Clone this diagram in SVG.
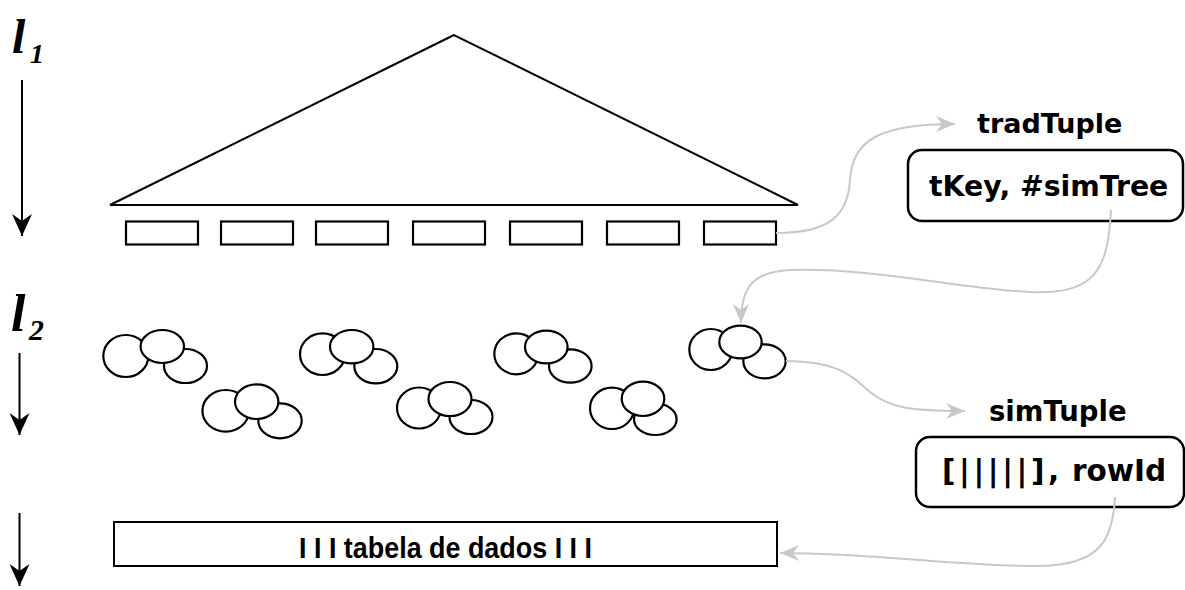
<svg xmlns="http://www.w3.org/2000/svg" xmlns:xlink="http://www.w3.org/1999/xlink" width="1185" height="590" viewBox="0 0 1185 590">
  <style>
    .shape { fill: #fff; stroke: #000; stroke-width: 2; }
    .leaf { fill: #fff; stroke: #000; stroke-width: 2.2; }
    .bubble { fill: #fff; stroke: #000; stroke-width: 2.2; }
    .box { fill: #fff; stroke: #000; stroke-width: 2.5; }
    .level { fill: none; stroke: #000; stroke-width: 2; }
    .link { fill: none; stroke: #c8c8c8; stroke-width: 2; }
    .lvl { font-family: "Liberation Serif", "Times New Roman", serif; font-weight: bold; font-style: italic; fill: #000; }
    .tag { font-family: "DejaVu Sans", Verdana, sans-serif; font-weight: bold; fill: #000; }
    .tbl { font-family: "Liberation Sans", Arial, sans-serif; font-weight: bold; font-size: 30px; fill: #000; }
  </style>
  <defs>
    <marker id="headBlack" viewBox="-23 -11 24 22" markerWidth="24" markerHeight="22" refX="0" refY="0" orient="auto" markerUnits="userSpaceOnUse">
      <path d="M0,0 L-22,-10 L-15,0 L-22,10 Z" fill="#000"/>
    </marker>
    <marker id="headGray" viewBox="-20 -9 21 18" markerWidth="21" markerHeight="18" refX="0" refY="0" orient="auto" markerUnits="userSpaceOnUse">
      <path d="M0,0 L-19,-8 L-13,0 L-19,8 Z" fill="#c8c8c8"/>
    </marker>
  </defs>

  <rect width="1185" height="590" fill="#fff"/>

  <!-- level markers on the left -->
  <g id="levels">
    <text class="lvl" x="12" y="53" font-size="48">l<tspan x="30" y="63" font-size="28">1</tspan></text>
    <text class="lvl" x="11" y="331" font-size="52">l<tspan x="29" y="340" font-size="30">2</tspan></text>
    <path class="level" d="M22,80 L22,236" marker-end="url(#headBlack)"/>
    <path class="level" d="M19.5,353 L19.5,435" marker-end="url(#headBlack)"/>
    <path class="level" d="M19.5,513 L19.5,586" marker-end="url(#headBlack)"/>
  </g>

  <!-- traditional index: tree outline and its leaf entries -->
  <g id="tradTree">
    <polygon class="shape" points="454,35 110,205 798,205"/>
  </g>
  <g id="leaves">
    <rect class="leaf" x="126" y="221.5" width="72" height="23"/>
    <rect class="leaf" x="221" y="221.5" width="72" height="23"/>
    <rect class="leaf" x="316" y="221.5" width="72" height="23"/>
    <rect class="leaf" x="413" y="221.5" width="72" height="23"/>
    <rect class="leaf" x="510" y="221.5" width="72" height="23"/>
    <rect class="leaf" x="607" y="221.5" width="72" height="23"/>
    <rect class="leaf" x="704" y="221.5" width="72" height="23"/>
  </g>

  <!-- similarity trees (three overlapping regions each) -->
  <g id="simTree1">
    <ellipse class="bubble" cx="125.8" cy="356" rx="22.5" ry="21"/>
    <ellipse class="bubble" cx="185.5" cy="366" rx="21.5" ry="17"/>
    <ellipse class="bubble" cx="162.3" cy="346.5" rx="21.7" ry="16.5"/>
  </g>
  <g id="simTree2">
    <ellipse class="bubble" cx="225.7" cy="410.8" rx="23.3" ry="20.8"/>
    <ellipse class="bubble" cx="280" cy="420.8" rx="21.7" ry="17.5"/>
    <ellipse class="bubble" cx="256.7" cy="401.7" rx="21.7" ry="17.3"/>
  </g>
  <g id="simTree3">
    <ellipse class="bubble" cx="322.5" cy="354.2" rx="22.5" ry="20.8"/>
    <ellipse class="bubble" cx="375.8" cy="366.2" rx="21.5" ry="17.2"/>
    <ellipse class="bubble" cx="351.7" cy="346.7" rx="21.7" ry="16.7"/>
  </g>
  <g id="simTree4">
    <ellipse class="bubble" cx="419" cy="408" rx="22" ry="20.5"/>
    <ellipse class="bubble" cx="471" cy="417" rx="21.5" ry="17"/>
    <ellipse class="bubble" cx="450" cy="399" rx="21.5" ry="17"/>
  </g>
  <g id="simTree5">
    <ellipse class="bubble" cx="516.3" cy="353.8" rx="22" ry="20.5"/>
    <ellipse class="bubble" cx="570.3" cy="366" rx="21.3" ry="16.7"/>
    <ellipse class="bubble" cx="546.3" cy="347" rx="21.3" ry="16.3"/>
  </g>
  <g id="simTree6">
    <ellipse class="bubble" cx="612" cy="408.3" rx="22" ry="20.7"/>
    <ellipse class="bubble" cx="655.3" cy="419.2" rx="21.3" ry="15.8"/>
    <ellipse class="bubble" cx="643" cy="398.8" rx="21.3" ry="17.2"/>
  </g>
  <g id="simTree7">
    <ellipse class="bubble" cx="710.8" cy="349.5" rx="21.5" ry="20.5"/>
    <ellipse class="bubble" cx="764.5" cy="361.3" rx="21.2" ry="17"/>
    <ellipse class="bubble" cx="740.5" cy="342" rx="21.2" ry="16.3"/>
  </g>

  <!-- data table -->
  <g id="dataTable">
    <rect class="shape" x="114" y="522" width="663" height="44"/>
    <text class="tbl" x="299" y="558" textLength="293" lengthAdjust="spacingAndGlyphs">I I I tabela de dados I I I</text>
  </g>

  <!-- tuple records -->
  <g id="tradTuple">
    <text class="tag" x="977" y="133" font-size="27">tradTuple</text>
    <rect class="box" x="908" y="150" width="275" height="71" rx="14" ry="14"/>
    <text class="tag" x="929" y="196" font-size="28.3">tKey, #simTree</text>
  </g>
  <g id="simTuple">
    <text class="tag" x="989" y="421" font-size="27.5">simTuple</text>
    <rect class="box" x="916" y="437" width="268" height="70" rx="14" ry="14"/>
    <text class="tag" x="942" y="481" font-size="29.5"><tspan letter-spacing="3.6">[|||||]</tspan>,<tspan x="1072">rowId</tspan></text>
  </g>

  <!-- connectors -->
  <g id="connectors">
    <path class="link" d="M776,233 C830,233 848,215 850,180 C852,140 880,124 955,124" marker-end="url(#headGray)"/>
    <path class="link" d="M1111,210 C1108,270 1095,295 1030,292 C960,289 880,268 790,270 C750,272 741,290 741,323" marker-end="url(#headGray)"/>
    <path class="link" d="M786,361 C840,362 850,375 870,392 C890,408 910,411 965,411" marker-end="url(#headGray)"/>
    <path class="link" d="M1115,497 C1113,540 1100,565 1040,566 C960,567 880,553 780,553" marker-end="url(#headGray)"/>
  </g>
</svg>
